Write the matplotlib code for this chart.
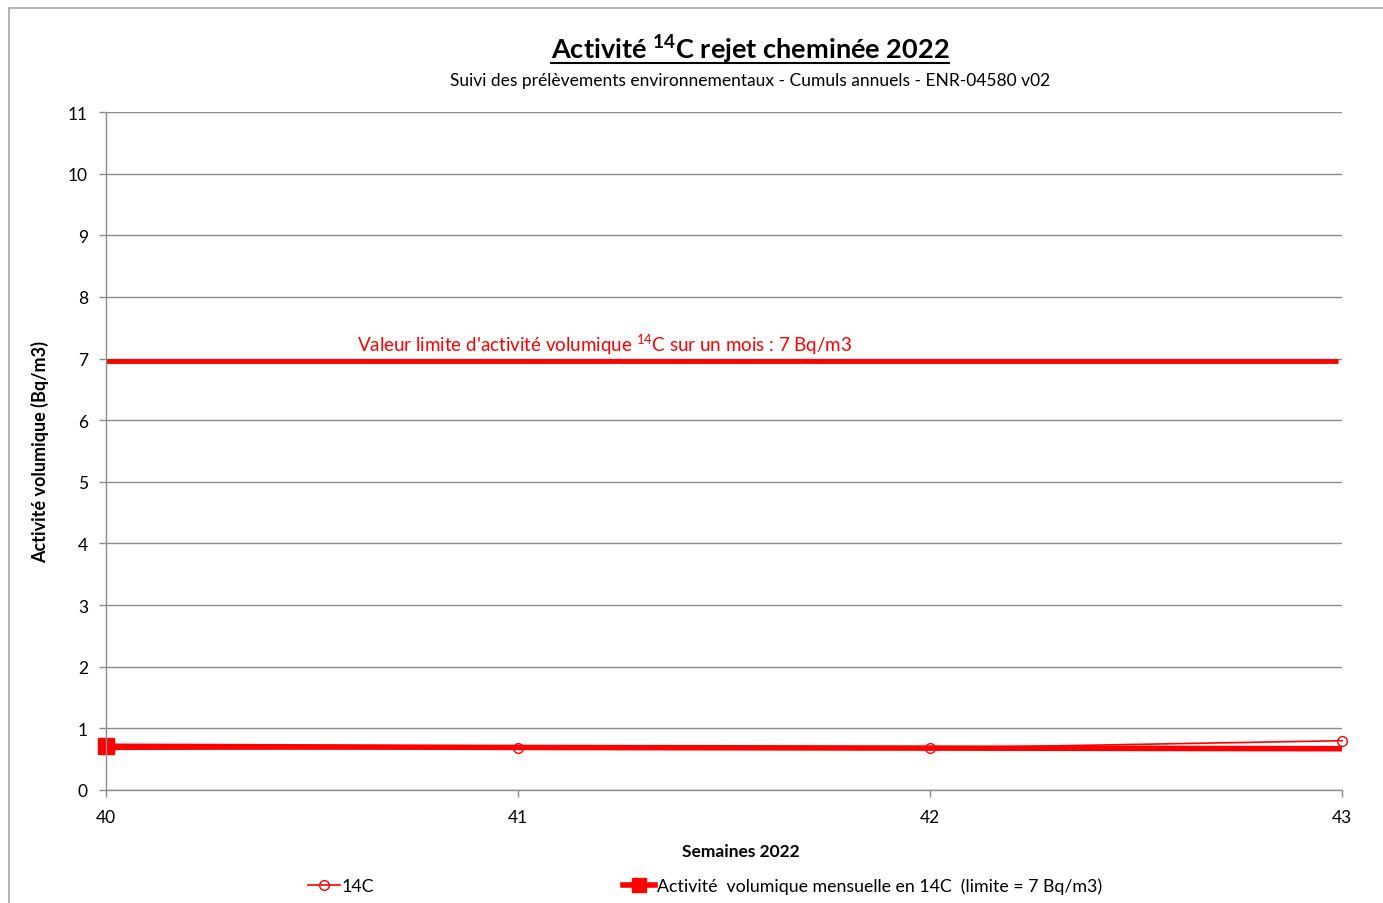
import matplotlib
matplotlib.use("Agg")
import matplotlib.pyplot as plt
from matplotlib.lines import Line2D
from matplotlib.patches import Rectangle

plt.rcParams['font.family'] = ['Lato', 'DejaVu Sans']
plt.rcParams['mathtext.fontset'] = 'custom'
plt.rcParams['mathtext.rm'] = 'Lato'
plt.rcParams['mathtext.bf'] = 'Lato:bold'

weeks = [40, 41, 42, 43]
c14 = [0.66, 0.68, 0.68, 0.80]
monthly = [0.71, 0.69, 0.68, 0.67]
limit_value = 6.96
yticks = list(range(0, 12))

W, H = 1383, 904
fig = plt.figure(figsize=(W / 100, H / 100), dpi=100)

def fx(px):
    return px / W

def fy(py):
    return 1 - py / H

# outer border (top and left visible)
fig.patches.append(Rectangle((fx(9), -0.05), 1.0, fy(9) + 0.05, transform=fig.transFigure,
                             fill=False, edgecolor='#a6a6a6', linewidth=1.2))

ax = fig.add_axes([fx(106), fy(791), fx(1342) - fx(106), fy(113) - fy(791)])
ax.set_xlim(40, 43)
ax.set_ylim(0, 11)
ax.set_yticks(yticks)
ax.set_xticks(weeks)
ax.grid(axis='y', color='#8c8c8c', linewidth=1.0)
ax.set_axisbelow(True)
for s in ['top', 'right']:
    ax.spines[s].set_visible(False)
for s in ['left', 'bottom']:
    ax.spines[s].set_color('#8c8c8c')
    ax.spines[s].set_linewidth(1.0)
ax.tick_params(axis='both', colors='#8c8c8c', labelcolor='black', labelsize=12.5, length=5, width=1)
ax.tick_params(axis='x', pad=9)
ax.tick_params(axis='y', pad=8)

# limit line
ax.plot([40, 42.99], [limit_value, limit_value], color='#ff0000', linewidth=3.5, solid_capstyle='butt', clip_on=False)
ax.text(40.61, 7.04, "Valeur limite d'activité volumique $^{14}$C sur un mois : 7 Bq/m3",
        color='#ff0000', fontsize=13.5, ha='left', va='bottom')

l2, = ax.plot(weeks, monthly, color='#ff0000', linewidth=4, marker='s', markersize=11,
              markevery=[0], clip_on=False, solid_capstyle='butt')
l1, = ax.plot(weeks, c14, color='#ff0000', linewidth=1.2, marker='o', markersize=7,
              markerfacecolor='none', markeredgecolor='#ff0000', clip_on=False)

ax.set_ylabel('Activité volumique (Bq/m3)', fontsize=13, fontweight='bold')
ax.yaxis.set_label_coords(-0.046, 0.5)
ax.set_xlabel('Semaines 2022', fontsize=12.5, fontweight='bold')
ax.xaxis.set_label_coords(0.514, -0.078)

t = fig.text(fx(750), fy(50), r"Activité $\mathbf{^{14}}$C rejet cheminée 2022", ha='center', va='center',
             fontsize=19.5, fontweight='bold')
fig.text(fx(750), fy(81), "Suivi des prélèvements environnementaux - Cumuls annuels - ENR-04580 v02",
         ha='center', va='center', fontsize=12.5)

fig.canvas.draw()
bb = t.get_window_extent()
fig.add_artist(Line2D([bb.x0 / W, bb.x1 / W], [fy(64), fy(64)], transform=fig.transFigure,
                      color='black', linewidth=1.5))

h1 = Line2D([], [], color='#ff0000', linewidth=1.2, marker='o', markersize=7,
            markerfacecolor='none', markeredgecolor='#ff0000')
h2 = Line2D([], [], color='#ff0000', linewidth=4, marker='s', markersize=10)
fig.legend([h1, h2], ['14C', 'Activité  volumique mensuelle en 14C  (limite = 7 Bq/m3)'],
           loc='center', bbox_to_anchor=(fx(705), fy(887)), ncol=2, frameon=False,
           fontsize=12.8, columnspacing=14, handlelength=1.8, handletextpad=0.1)

fig.savefig('out.png', dpi=100)
